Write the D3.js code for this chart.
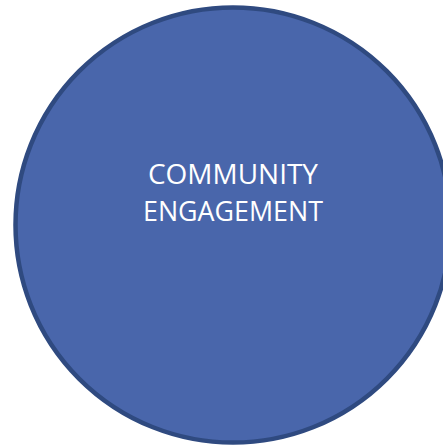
<!DOCTYPE html>
<html>
<head>
<meta charset="utf-8">
<script src="https://cdn.jsdelivr.net/npm/d3@7"></script>
<style>
  html, body { margin: 0; padding: 0; background: #fff; }
</style>
</head>
<body>
<div id="chart"></div>
<script>
'use strict';

// one bubble, one label split over two lines
var bubbleNames = ['Community engagement'];
var bubbleValues = [1];
var labelLines = ['COMMUNITY', 'ENGAGEMENT'];

var width = 443;
var height = 448;
var cx = 233;
var cy = 225;
var maxRadius = 217.5;

var svg = d3.select('#chart')
    .append('svg')
    .attr('width', width)
    .attr('height', height);

var r = d3.scaleSqrt()
    .domain([0, d3.max(bubbleValues)])
    .range([0, maxRadius]);

var nodes = bubbleNames.map(function (name, i) {
    return { name: name, value: bubbleValues[i] };
});

var g = svg.selectAll('g.bubble')
    .data(nodes)
    .enter()
    .append('g')
    .attr('class', 'bubble')
    .attr('transform', 'translate(' + cx + ',' + cy + ')');

g.append('circle')
    .attr('r', function (d) { return r(d.value); })
    .attr('fill', '#4966ab')
    .attr('stroke', '#2f4a80')
    .attr('stroke-width', 4.5);

// label lines, centred horizontally, sitting above the middle
var lineY = d3.scaleLinear()
    .domain([0, 1])
    .range([-41, -4]);

var widths = [170, 180];

g.selectAll('text')
    .data(labelLines)
    .enter()
    .append('text')
    .attr('x', 0)
    .attr('y', function (d, i) { return lineY(i); })
    .attr('text-anchor', 'middle')
    .attr('fill', '#ffffff')
    .attr('font-family', '"Open Sans", "DejaVu Sans", sans-serif')
    .attr('font-size', 27)
    .attr('textLength', function (d, i) { return widths[i]; })
    .attr('lengthAdjust', 'spacingAndGlyphs')
    .text(function (d) { return d; });
</script>
</body>
</html>
